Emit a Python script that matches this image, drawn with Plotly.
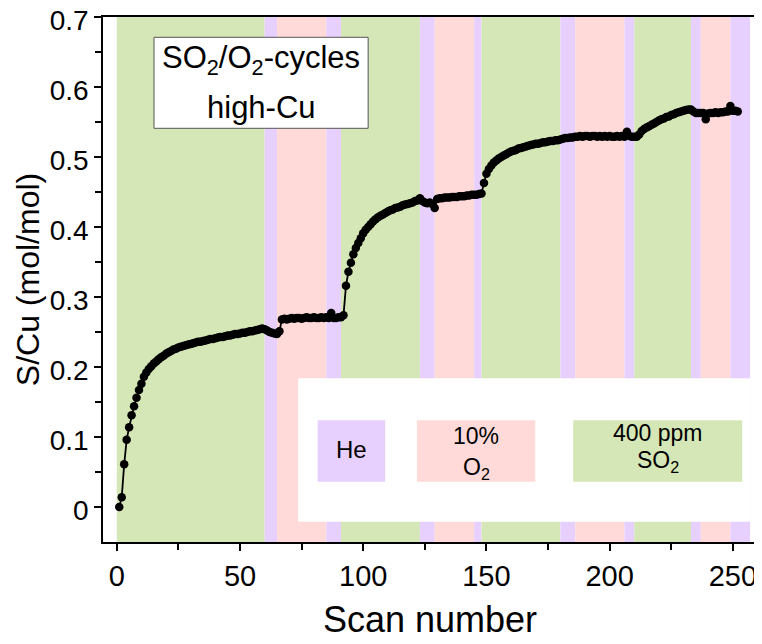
import plotly.graph_objects as go

# S/Cu, one list per gas phase (scan numbers 1..252)
so2_1 = [0.000, 0.014, 0.061, 0.096, 0.114, 0.131, 0.144, 0.156, 0.167, 0.176,
         0.186, 0.192, 0.197, 0.201, 0.205, 0.208, 0.211, 0.214, 0.216, 0.219,
         0.221, 0.223, 0.225, 0.226, 0.228, 0.229, 0.230, 0.231, 0.232, 0.233,
         0.234, 0.235, 0.236, 0.236, 0.237, 0.238, 0.239, 0.240, 0.240, 0.241,
         0.242, 0.243, 0.243, 0.244, 0.245, 0.245, 0.246, 0.247, 0.247, 0.248,
         0.249, 0.249, 0.250, 0.251, 0.251, 0.252, 0.253, 0.254, 0.255, 0.254]
he_1 = [0.252, 0.250, 0.249, 0.248, 0.247]
o2_1 = [0.251, 0.268, 0.269, 0.268, 0.269, 0.270, 0.269, 0.270, 0.270, 0.269,
        0.270, 0.271, 0.270, 0.270, 0.271, 0.270, 0.270, 0.271, 0.270, 0.271]
he_2 = [0.270, 0.277, 0.270, 0.270, 0.271, 0.271]
so2_2 = [0.274, 0.316, 0.336, 0.349, 0.361, 0.370, 0.377, 0.384, 0.391, 0.396,
         0.400, 0.404, 0.408, 0.411, 0.414, 0.416, 0.418, 0.420, 0.422, 0.424,
         0.425, 0.427, 0.428, 0.429, 0.431, 0.432, 0.433, 0.434, 0.435, 0.437,
         0.438, 0.441]
he_3 = [0.437, 0.435, 0.434, 0.435, 0.433, 0.427]
o2_2 = [0.440, 0.441, 0.441, 0.442, 0.442, 0.442, 0.443, 0.443, 0.443, 0.444,
        0.444, 0.444, 0.445, 0.445, 0.446, 0.446]
he_4 = [0.446, 0.447, 0.448]
so2_3 = [0.463, 0.476, 0.483, 0.488, 0.492, 0.495, 0.498, 0.500, 0.502, 0.504,
         0.506, 0.508, 0.509, 0.510, 0.512, 0.513, 0.514, 0.515, 0.516, 0.517,
         0.518, 0.519, 0.519, 0.520, 0.521, 0.521, 0.522, 0.523, 0.523, 0.524,
         0.524, 0.525]
he_5 = [0.526, 0.527, 0.527, 0.528, 0.528, 0.529]
o2_3 = [0.529, 0.530, 0.529, 0.530, 0.530, 0.529, 0.530, 0.530, 0.529, 0.530,
        0.529, 0.530, 0.529, 0.530, 0.529, 0.529, 0.530, 0.529, 0.530, 0.529]
he_6 = [0.536, 0.530, 0.529, 0.529]
so2_4 = [0.529, 0.532, 0.537, 0.540, 0.542, 0.544, 0.546, 0.548, 0.550, 0.552,
         0.554, 0.555, 0.557, 0.558, 0.560, 0.561, 0.563, 0.564, 0.565, 0.566,
         0.567, 0.568, 0.568]
he_7 = [0.565, 0.563, 0.563, 0.563]
o2_4 = [0.563, 0.554, 0.562, 0.563, 0.563, 0.564, 0.563, 0.564, 0.564, 0.565,
        0.565, 0.573]
he_8 = [0.566, 0.566, 0.565]

s_cu = (so2_1 + he_1 + o2_1 + he_2 + so2_2 + he_3 + o2_2 + he_4 + so2_3 + he_5
        + o2_3 + he_6 + so2_4 + he_7 + o2_4 + he_8)
scan = list(range(1, len(s_cu) + 1))

# gas switching (scan number edges) and which gas flows in between
band_edges = [0, 60, 65, 85, 91, 123, 129, 145, 148, 180, 186, 206, 210, 233, 237, 249, 257]
band_gas = ["SO2", "He", "O2", "He", "SO2", "He", "O2", "He",
            "SO2", "He", "O2", "He", "SO2", "He", "O2", "He"]

colors = {"He": "#e8d0fe", "O2": "#ffdad9", "SO2": "#d5e7b6"}

fig = go.Figure()

for i, gas in enumerate(band_gas):
    fig.add_shape(type="rect", xref="x", yref="paper",
                  x0=band_edges[i], x1=band_edges[i + 1], y0=0, y1=1,
                  fillcolor=colors[gas], line=dict(width=0), layer="below")

# white legend panel in lower right
fig.add_shape(type="rect", xref="x", yref="y", x0=73.6, x1=257, y0=-0.021, y1=0.184,
              fillcolor="white", line=dict(width=0), layer="below")
legend_boxes = [("He", 81.5, 108.9), ("O2", 121.8, 169.8), ("SO2", 185.2, 253.8)]
for gas, lx0, lx1 in legend_boxes:
    fig.add_shape(type="rect", xref="x", yref="y", x0=lx0, x1=lx1, y0=0.036, y1=0.124,
                  fillcolor=colors[gas], line=dict(width=0), layer="below")

fig.add_trace(go.Scatter(x=scan, y=s_cu, mode="lines+markers",
                         line=dict(color="black", width=1.8),
                         marker=dict(color="black", size=8.5),
                         showlegend=False))

# title box
fig.add_shape(type="rect", xref="x", yref="y", x0=15.1, x1=102, y0=0.541, y1=0.671,
              fillcolor="white", line=dict(color="#555555", width=1))

txt = dict(family="Liberation Sans, Arial", color="black")
fig.add_annotation(x=58.6, y=0.639, text="SO<sub>2</sub>/O<sub>2</sub>-cycles",
                   showarrow=False, font=dict(size=31, **txt))
fig.add_annotation(x=58.6, y=0.571, text="high-Cu", showarrow=False, font=dict(size=31, **txt))

fig.add_annotation(x=95.2, y=0.082, text="He", showarrow=False, font=dict(size=24, **txt))
fig.add_annotation(x=145.8, y=0.101, text="10%", showarrow=False, font=dict(size=23, **txt))
fig.add_annotation(x=145.8, y=0.055, text="O<sub>2</sub>", showarrow=False, font=dict(size=23, **txt))
fig.add_annotation(x=219.5, y=0.106, text="400 ppm", showarrow=False, font=dict(size=23, **txt))
fig.add_annotation(x=219.5, y=0.065, text="SO<sub>2</sub>", showarrow=False, font=dict(size=23, **txt))

fig.update_xaxes(range=[-5.6, 259.8], tickvals=[0, 50, 100, 150, 200, 250],
                 ticks="outside", ticklen=7, tickwidth=1.5, tickcolor="black",
                 minor=dict(tickvals=[25, 75, 125, 175, 225], ticks="outside", ticklen=6,
                            tickwidth=1.5, tickcolor="black"),
                 showline=True, linecolor="black", linewidth=1.5, mirror=True,
                 showgrid=False, zeroline=False, automargin=False,
                 ticklabeloverflow="allow",
                 tickfont=dict(size=29, **txt),
                 title=dict(text="Scan number", font=dict(size=36, **txt), standoff=16))
fig.update_yaxes(range=[-0.05, 0.7], tickvals=[0, 0.1, 0.2, 0.3, 0.4, 0.5, 0.6, 0.7],
                 ticktext=["0", "0.1", "0.2", "0.3", "0.4", "0.5", "0.6", "0.7"],
                 ticks="outside", ticklen=7, tickwidth=1.5, tickcolor="black",
                 minor=dict(tickvals=[0.05, 0.15, 0.25, 0.35, 0.45, 0.55, 0.65], ticks="outside",
                            ticklen=6, tickwidth=1.5, tickcolor="black"),
                 showline=True, linecolor="black", linewidth=1.5, mirror=True,
                 showgrid=False, zeroline=False, automargin=False,
                 ticklabeloverflow="allow", ticklabelshift=3,
                 tickfont=dict(size=28, **txt),
                 title=dict(text="S/Cu (mol/mol)", font=dict(size=32, **txt), standoff=1))

# the page body keeps an 8px margin, so the figure is a bit smaller and offset
fig.update_layout(width=754, height=636, margin=dict(l=95, r=5, t=9, b=102),
                  plot_bgcolor="white", paper_bgcolor="white")

fig.write_html("out.html")
